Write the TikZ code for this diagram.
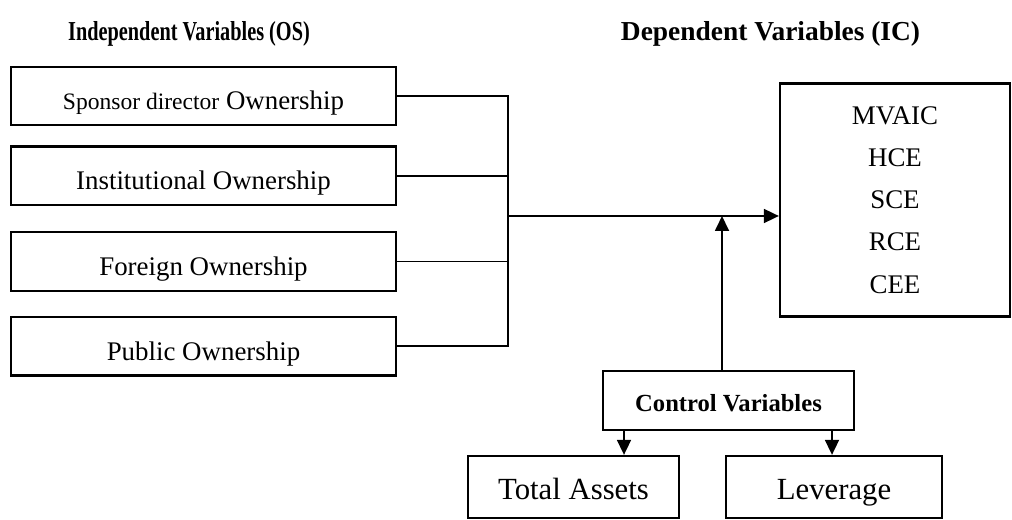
\documentclass[tikz,border=0pt]{standalone}
\usepackage{fontspec}
\setmainfont{Liberation Serif}
\usetikzlibrary{positioning, arrows.meta}

\begin{document}
\begin{tikzpicture}[
        node distance=0.45cm,
        box/.style={rectangle, draw, line width=1.3pt, minimum width=7.7cm, minimum height=1.17cm, align=center, text height=15.9pt, text depth=0pt, font=\fontsize{15.3}{18}\selectfont},
        head/.style={font=\bfseries\fontsize{15.6}{18}\selectfont},
        conn/.style={line width=1pt},
        arr/.style={conn, -{Triangle[length=0.3cm, width=0.28cm]}}
    ]
    \useasboundingbox (0,0) rectangle (20.24,10.4);

    % headings
    \node[head] (HEADOS) at (3.78,9.72) {\scalebox{0.74}[1]{Independent Variables (OS)}};
    \node[head] (HEADIC) at (15.41,9.72) {Dependent Variables (IC)};

    % ownership structure
    \node[box] (SPONSOR) at (4.07,8.48) {{\fontsize{13.4}{16}\selectfont Sponsor director} Ownership};
    \node[box, below=0.38cm of SPONSOR] (INST) {Institutional Ownership};
    \node[box, below=0.5cm of INST] (FOREIGN) {Foreign Ownership};
    \node[box, below=0.48cm of FOREIGN] (PUBLIC) {Public Ownership};

    % intellectual capital
    \node[box, minimum width=4.6cm, minimum height=4.66cm, text height=, text depth=, font=\fontsize{15.3}{24}\selectfont] (IC) at (17.9,6.4) {MVAIC\\HCE\\SCE\\RCE\\CEE};

    % controls
    \node[box, minimum width=5.02cm, text height=12pt, font=\bfseries\fontsize{14}{17}\selectfont] (CONTROL) at (14.57,2.39) {Control Variables};
    \node[box, minimum width=4.22cm, minimum height=1.24cm, text height=14.7pt, font=\fontsize{17.5}{20}\selectfont] (ASSETS) at (11.47,0.66) {Total Assets};
    \node[box, minimum width=4.32cm, minimum height=1.24cm, text height=14.7pt, font=\fontsize{17.5}{20}\selectfont] (LEVERAGE) at (16.68,0.66) {Leverage};

    \coordinate (JOIN) at (10.16,6.08);
    \draw[conn] (SPONSOR.east) -- (SPONSOR.east -| JOIN) -- (PUBLIC.east -| JOIN) -- (PUBLIC.east);
    \draw[conn] (INST.east) -- (INST.east -| JOIN);
    \draw[conn] (FOREIGN.east) -- (FOREIGN.east -| JOIN);
    \draw[arr] (JOIN) -- (JOIN -| IC.west);
    \draw[arr] ([xshift=-0.13cm]CONTROL.north) coordinate (UP) -- (UP |- JOIN);
    \draw[arr] ([xshift=-2.09cm]CONTROL.south) coordinate (DL) -- (DL |- ASSETS.north);
    \draw[arr] ([xshift=2.07cm]CONTROL.south) coordinate (DR) -- (DR |- LEVERAGE.north);
\end{tikzpicture}
\end{document}
